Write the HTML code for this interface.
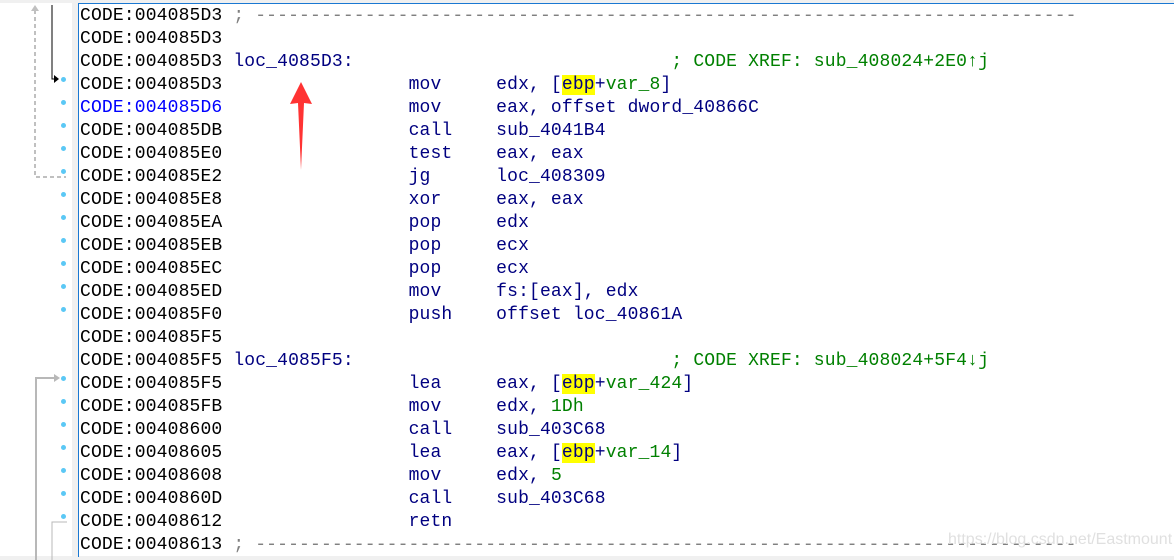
<!DOCTYPE html>
<html><head><meta charset="utf-8"><style>
body{margin:0;width:1174px;height:560px;overflow:hidden;background:#fff;position:relative;font-family:"Liberation Mono",monospace}
#frame{position:absolute;left:78px;top:3px;width:1096px;height:553px;border-left:1px solid #1a78d2;border-top:1px solid #1a78d2}
.strip{position:absolute;left:72px;top:0;width:6px;height:560px;background:#f0f0f0}
.r{position:absolute;left:80px;height:23px;line-height:23px;font-size:18px;letter-spacing:0.15px;white-space:pre;color:#000;top:5px}
.n{color:#000080}.g{color:#008000}.b{color:#0000ff}.gr{color:#808080}
.y{background:#ffff00}
.dot{position:absolute;left:61px;width:5px;height:5px;border-radius:50%;background:#5bc8f5}
</style></head><body>
<div style="position:absolute;left:0;top:0;width:1174px;height:3px;background:#f0f0f0"></div>
<div style="position:absolute;left:0;top:556px;width:1174px;height:4px;background:#f0f0f0"></div>
<div class="strip"></div>
<div id="frame"></div>

<div class="r" style="top:5px">CODE:004085D3 <span class="gr">; ---------------------------------------------------------------------------</span></div>
<div class="r" style="top:28px">CODE:004085D3</div>
<div class="r" style="top:51px">CODE:004085D3 <span class="n">loc_4085D3:</span>                             <span class="g">; CODE XREF: sub_408024+2E0↑j</span></div>
<div class="r" style="top:74px">CODE:004085D3                 <span class="n">mov     edx, [<span class="y">ebp</span>+<span class="g">var_8</span>]</span></div>
<div class="r" style="top:97px"><span class="b">CODE:004085D6</span>                 <span class="n">mov     eax, offset dword_40866C</span></div>
<div class="r" style="top:120px">CODE:004085DB                 <span class="n">call    sub_4041B4</span></div>
<div class="r" style="top:143px">CODE:004085E0                 <span class="n">test    eax, eax</span></div>
<div class="r" style="top:166px">CODE:004085E2                 <span class="n">jg      loc_408309</span></div>
<div class="r" style="top:189px">CODE:004085E8                 <span class="n">xor     eax, eax</span></div>
<div class="r" style="top:212px">CODE:004085EA                 <span class="n">pop     edx</span></div>
<div class="r" style="top:235px">CODE:004085EB                 <span class="n">pop     ecx</span></div>
<div class="r" style="top:258px">CODE:004085EC                 <span class="n">pop     ecx</span></div>
<div class="r" style="top:281px">CODE:004085ED                 <span class="n">mov     fs:[eax], edx</span></div>
<div class="r" style="top:304px">CODE:004085F0                 <span class="n">push    offset loc_40861A</span></div>
<div class="r" style="top:327px">CODE:004085F5</div>
<div class="r" style="top:350px">CODE:004085F5 <span class="n">loc_4085F5:</span>                             <span class="g">; CODE XREF: sub_408024+5F4↓j</span></div>
<div class="r" style="top:373px">CODE:004085F5                 <span class="n">lea     eax, [<span class="y">ebp</span>+<span class="g">var_424</span>]</span></div>
<div class="r" style="top:396px">CODE:004085FB                 <span class="n">mov     edx, <span class="g">1Dh</span></span></div>
<div class="r" style="top:419px">CODE:00408600                 <span class="n">call    sub_403C68</span></div>
<div class="r" style="top:442px">CODE:00408605                 <span class="n">lea     eax, [<span class="y">ebp</span>+<span class="g">var_14</span>]</span></div>
<div class="r" style="top:465px">CODE:00408608                 <span class="n">mov     edx, <span class="g">5</span></span></div>
<div class="r" style="top:488px">CODE:0040860D                 <span class="n">call    sub_403C68</span></div>
<div class="r" style="top:511px">CODE:00408612                 <span class="n">retn</span></div>
<div class="r" style="top:534px">CODE:00408613 <span class="gr">; ---------------------------------------------------------------------------</span></div>

<div class="dot" style="top:77px"></div><div class="dot" style="top:100px"></div><div class="dot" style="top:123px"></div><div class="dot" style="top:146px"></div><div class="dot" style="top:169px"></div><div class="dot" style="top:192px"></div><div class="dot" style="top:215px"></div><div class="dot" style="top:238px"></div><div class="dot" style="top:261px"></div><div class="dot" style="top:284px"></div><div class="dot" style="top:307px"></div>
<div class="dot" style="top:376px"></div><div class="dot" style="top:399px"></div><div class="dot" style="top:422px"></div><div class="dot" style="top:445px"></div><div class="dot" style="top:468px"></div><div class="dot" style="top:491px"></div><div class="dot" style="top:514px"></div>

<svg width="1174" height="560" style="position:absolute;left:0;top:0">
<path d="M52 5 V79 H58" stroke="#000" stroke-width="1" fill="none"/>
<polygon points="59,79 54,75 54,83" fill="#000"/>
<path d="M35 10 V177 H66" stroke="#c0c0c0" stroke-width="2" stroke-dasharray="4,3" fill="none"/>
<polygon points="35,5 31,11 39,11" fill="#c0c0c0"/>
<path d="M36 560 V378 H56" stroke="#b8b8b8" stroke-width="2" fill="none"/>
<polygon points="60,378 54,374 54,382" fill="#b8b8b8"/>
<path d="M52 560 V522 H67" stroke="#b8b8b8" stroke-width="1" fill="none"/>
<polygon points="301,82 290,104 298,103 301,170 304,103 312,104" fill="#f33"/>
</svg>
<div style="position:absolute;left:948px;top:531px;font-family:'Liberation Sans',sans-serif;font-size:16px;color:#e0e0e0">https://blog.csdn.net/Eastmount</div>
</body></html>
